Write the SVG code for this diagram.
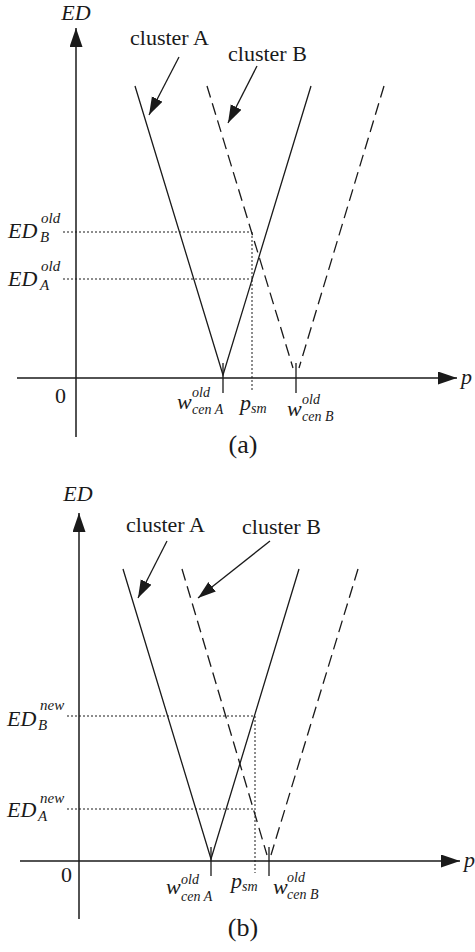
<svg xmlns="http://www.w3.org/2000/svg" width="475" height="952" viewBox="0 0 475 952">
<style>
text{font-family:"Liberation Serif","Times New Roman",serif;fill:#1a1a1a}
.it{font-style:italic}
.lab{font-size:22px}
.sm{font-size:15px;font-style:italic}
.ss{font-size:14px;font-style:italic}
.ax{stroke:#1a1a1a;stroke-width:1.5;fill:none}
.sol{stroke:#1a1a1a;stroke-width:1.3;fill:none}
.dash{stroke:#1a1a1a;stroke-width:1.3;fill:none;stroke-dasharray:12 6}
.dot{stroke:#1a1a1a;stroke-width:1;fill:none;stroke-dasharray:2 2}
.ptr{stroke:#1a1a1a;stroke-width:1.3;fill:none}
</style>
<defs>
<marker id="axh" markerUnits="userSpaceOnUse" markerWidth="20" markerHeight="14" refX="19" refY="6.5" orient="auto">
<path d="M0,0 L19,6.5 L0,13 z" fill="#1a1a1a"/>
</marker>
<marker id="ph" markerUnits="userSpaceOnUse" markerWidth="20" markerHeight="14" refX="18" refY="6" orient="auto">
<path d="M0,0 L18,6 L0,12 z" fill="#1a1a1a"/>
</marker>
</defs>

<!-- Panel (a) -->
<g id="panel-a">
<g id="a-axes">
<line class="ax" x1="76" y1="437" x2="76" y2="28" marker-end="url(#axh)"/>
<line class="ax" x1="17" y1="378" x2="457" y2="378" marker-end="url(#axh)"/>
<text class="lab it" x="76" y="20" text-anchor="middle">ED</text>
<text class="lab it" x="461" y="384">p</text>
<text class="lab" x="55" y="403">0</text>
</g>
<g id="a-clusterA">
<polyline class="sol" points="135,86 223,375 311,86"/>
<line class="sol" x1="223" y1="363" x2="223" y2="393"/>
<text class="lab" x="130" y="45">cluster A</text>
</g>
<g id="a-clusterB">
<line class="dash" x1="207" y1="86" x2="293" y2="368"/>
<line class="dash" x1="384" y1="86" x2="299" y2="368"/>
<line class="sol" x1="296" y1="363" x2="296" y2="393"/>
<text class="lab" x="228" y="61">cluster B</text>
</g>
<g id="a-connectors">
<line class="ptr" x1="179" y1="57" x2="149" y2="115" marker-end="url(#ph)"/>
<line class="ptr" x1="257" y1="66" x2="228" y2="123" marker-end="url(#ph)"/>
<line class="dot" x1="63" y1="232" x2="252" y2="232"/>
<line class="dot" x1="63" y1="279" x2="252" y2="279"/>
<line class="dot" x1="252" y1="232" x2="252" y2="392"/>
</g>
<g id="a-labels">
<text class="lab it" x="8" y="238">ED</text>
<text class="sm" x="40" y="242">B</text>
<text class="sm" x="41" y="223">old</text>
<text class="lab it" x="8" y="286">ED</text>
<text class="sm" x="40" y="290">A</text>
<text class="sm" x="41" y="271">old</text>
<text class="lab it" x="177" y="409">w</text>
<text class="ss" x="192" y="397">old</text>
<text class="ss" x="192" y="414">cen A</text>
<text class="lab it" x="240" y="410">p</text>
<text class="ss" x="251" y="413">sm</text>
<text class="lab it" x="287" y="416">w</text>
<text class="ss" x="302" y="404">old</text>
<text class="ss" x="302" y="421">cen B</text>
<text x="243" y="453" text-anchor="middle" font-size="26">(a)</text>
</g>
</g>

<!-- Panel (b) -->
<g id="panel-b">
<g id="b-axes">
<line class="ax" x1="79" y1="919" x2="79" y2="513" marker-end="url(#axh)"/>
<line class="ax" x1="20" y1="861" x2="460" y2="861" marker-end="url(#axh)"/>
<text class="lab it" x="78" y="501" text-anchor="middle">ED</text>
<text class="lab it" x="464" y="867">p</text>
<text class="lab" x="61" y="882">0</text>
</g>
<g id="b-clusterA">
<polyline class="sol" points="123,569 211,859 299,569"/>
<line class="sol" x1="211" y1="847" x2="211" y2="876"/>
<text class="lab" x="126" y="532">cluster A</text>
</g>
<g id="b-clusterB">
<line class="dash" x1="182" y1="569" x2="267" y2="855"/>
<line class="dash" x1="358" y1="569" x2="271" y2="855"/>
<line class="sol" x1="269" y1="847" x2="269" y2="876"/>
<text class="lab" x="242" y="534">cluster B</text>
</g>
<g id="b-connectors">
<line class="ptr" x1="167" y1="541" x2="138" y2="598" marker-end="url(#ph)"/>
<line class="ptr" x1="270" y1="541" x2="198" y2="598" marker-end="url(#ph)"/>
<line class="dot" x1="67" y1="716" x2="255" y2="716"/>
<line class="dot" x1="67" y1="809" x2="255" y2="809"/>
<line class="dot" x1="255" y1="716" x2="255" y2="873"/>
</g>
<g id="b-labels">
<text class="lab it" x="7" y="726">ED</text>
<text class="sm" x="38" y="730">B</text>
<text class="sm" x="40" y="710">new</text>
<text class="lab it" x="7" y="817">ED</text>
<text class="sm" x="38" y="821">A</text>
<text class="sm" x="40" y="803">new</text>
<text class="lab it" x="166" y="894">w</text>
<text class="ss" x="181" y="884">old</text>
<text class="ss" x="181" y="901">cen A</text>
<text class="lab it" x="231" y="888">p</text>
<text class="ss" x="242" y="891">sm</text>
<text class="lab it" x="273" y="894">w</text>
<text class="ss" x="287" y="882">old</text>
<text class="ss" x="287" y="899">cen B</text>
<text x="243" y="936" text-anchor="middle" font-size="26">(b)</text>
</g>
</g>
</svg>
